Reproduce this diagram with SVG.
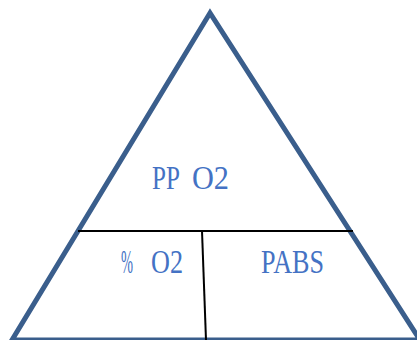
<svg xmlns="http://www.w3.org/2000/svg" width="417" height="340" viewBox="0 0 417 340">
<style>
.lbl{font-family:"Liberation Serif","DejaVu Serif",serif;font-size:34px;fill:#4472c4}
.div{stroke:#000;stroke-width:2;fill:none}
</style>
<rect width="417" height="340" fill="#fff"/>
<g id="triangle">
<polygon points="210,13 12,340 420,340" fill="none" stroke="#3a5e8c" stroke-width="5" stroke-linejoin="miter"/>
</g>
<g id="connectors">
<line class="div" x1="78" y1="231" x2="353" y2="231"/>
<line class="div" x1="202" y1="231" x2="206" y2="340"/>
</g>
<g id="pp-o2">
<text class="lbl" y="189"><tspan x="152" textLength="27" lengthAdjust="spacingAndGlyphs">PP</tspan> <tspan x="192" textLength="37" lengthAdjust="spacingAndGlyphs">O2</tspan></text>
</g>
<g id="pct-o2">
<text class="lbl" y="273"><tspan x="121" textLength="12" lengthAdjust="spacingAndGlyphs">%</tspan> <tspan x="151" textLength="32" lengthAdjust="spacingAndGlyphs">O2</tspan></text>
</g>
<g id="pabs">
<text class="lbl" x="261" y="273" textLength="63" lengthAdjust="spacingAndGlyphs">PABS</text>
</g>
</svg>
